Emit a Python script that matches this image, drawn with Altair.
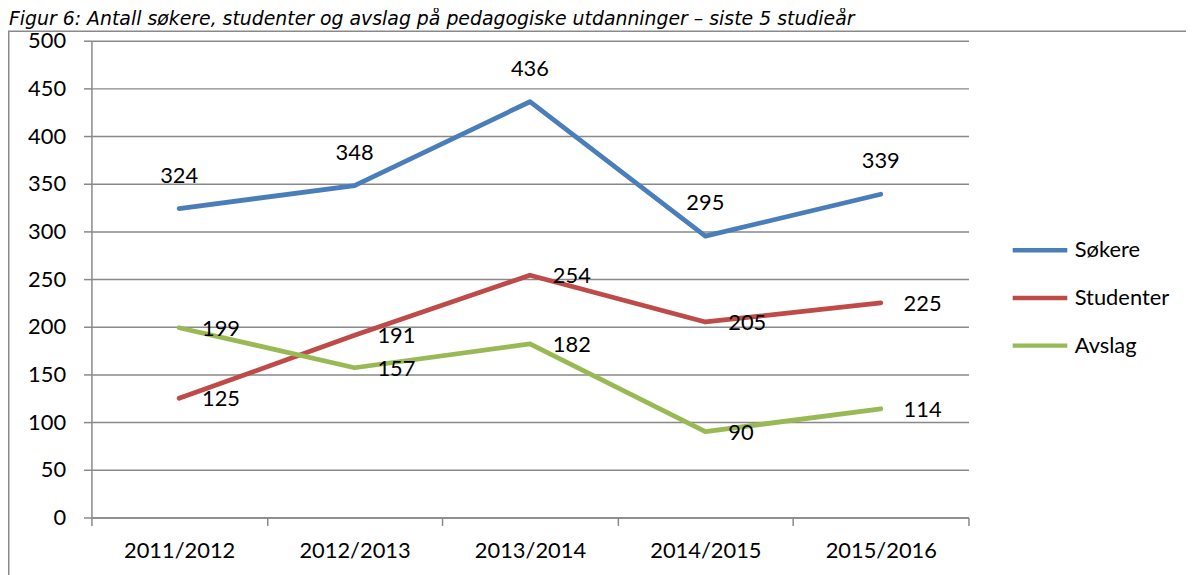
import altair as alt
import pandas as pd

# ---- data ----
years = ["2011/2012", "2012/2013", "2013/2014", "2014/2015", "2015/2016"]
series = ["Søkere", "Studenter", "Avslag"]
sokere = [324, 348, 436, 295, 339]
studenter = [125, 191, 254, 205, 225]
avslag = [199, 157, 182, 90, 114]
y_ticks = [0, 50, 100, 150, 200, 250, 300, 350, 400, 450, 500]
colors = ["#4A7EBB", "#BE4B48", "#98B954"]
title_text = "Figur 6: Antall søkere, studenter og avslag på pedagogiske utdanninger – siste 5 studieår"

rows = []
for name, vals in zip(series, [sokere, studenter, avslag]):
    for yr, v in zip(years, vals):
        rows.append({"År": yr, "Serie": name, "Antall": v})
df = pd.DataFrame(rows)

# ---- layout ----
W, H = 883, 480
PL, PT = 84, 31
PR = 1186 - PL - W
PB = 567 - PT - H
GRAY = "#898989"
FONT = "Lato"
FS = 22

x_enc = alt.X(
    "År:N",
    sort=years,
    bandPosition=0.5,
    scale=alt.Scale(type="band", paddingInner=0, paddingOuter=0),
    axis=alt.Axis(
        title=None, labelAngle=0, tickBand="extent", tickSize=8,
        tickColor=GRAY, tickWidth=1.5, domainColor=GRAY, domainWidth=1.5,
        labelFont=FONT, labelFontSize=FS, labelColor="black", labelPadding=15,
        grid=False,
    ),
)
y_enc = alt.Y(
    "Antall:Q",
    scale=alt.Scale(domain=[0, 500], nice=False),
    axis=alt.Axis(
        title=None, values=y_ticks, tickSize=8, tickColor=GRAY, tickWidth=1.5,
        domainColor=GRAY, domainWidth=1.5, grid=True, gridColor=GRAY,
        gridWidth=1.5, labelFont=FONT, labelFontSize=FS, labelColor="black",
        labelPadding=18,
    ),
)
color_enc = alt.Color(
    "Serie:N",
    sort=series,
    scale=alt.Scale(domain=series, range=colors),
    legend=alt.Legend(
        title=None, orient="none", legendX=925, legendY=181,
        symbolType="stroke", symbolSize=3025, symbolStrokeWidth=4.5,
        labelFont=FONT, labelFontSize=FS, labelColor="black",
        labelOffset=5, rowPadding=7,
    ),
)

base = alt.Chart(df)

lines = base.mark_line(strokeWidth=4.8, strokeCap="round", strokeJoin="round").encode(
    x=x_enc, y=y_enc, color=color_enc
)

lab_top = base.transform_filter(alt.datum.Serie == "Søkere").mark_text(
    align="center", baseline="middle", dy=-33, font=FONT, fontSize=FS, color="black"
).encode(
    x=alt.X("År:N", sort=years, bandPosition=0.5),
    y="Antall:Q",
    text="Antall:Q",
)
lab_right = base.transform_filter(alt.datum.Serie != "Søkere").mark_text(
    align="left", baseline="middle", dx=23, dy=1, font=FONT, fontSize=FS, color="black"
).encode(
    x=alt.X("År:N", sort=years, bandPosition=0.5),
    y="Antall:Q",
    text="Antall:Q",
)

border = alt.Chart(pd.DataFrame({"a": [0]})).mark_rect(
    filled=False, stroke=GRAY, strokeWidth=1.5
).encode(
    x=alt.value(-PL + 0.75), x2=alt.value(W + PR + 20),
    y=alt.value(-PT + 21.5), y2=alt.value(H + PB + 20),
)

title = alt.Chart(pd.DataFrame({"t": [title_text]})).mark_text(
    align="left", baseline="alphabetic", font="DejaVu Sans", fontStyle="italic",
    fontSize=19, color="black",
).encode(
    x=alt.value(-PL + 1), y=alt.value(-PT + 15), text="t:N"
)

chart = alt.layer(border, title, lines, lab_top, lab_right).properties(
    width=W, height=H,
    autosize=alt.AutoSizeParams(type="none"),
    padding={"left": PL, "top": PT, "right": PR, "bottom": PB},
    background="white",
).configure_view(stroke=None)

chart.save("out.html", embed_options={"renderer": "svg", "actions": False})
